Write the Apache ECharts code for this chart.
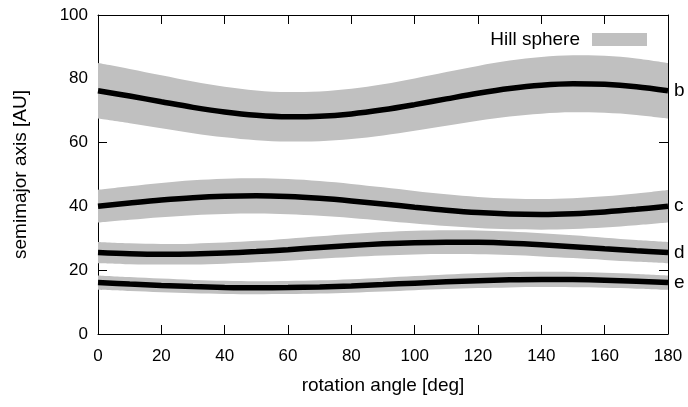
<!DOCTYPE html>
<html>
<head>
<meta charset="utf-8">
<script src="https://cdn.jsdelivr.net/npm/echarts@6/dist/echarts.min.js"></script>
<style>
  html, body { margin: 0; padding: 0; background: #fff; }
  #chart { width: 688px; height: 407px; }
</style>
</head>
<body>
<div id="chart"></div>
<script>
// Rotation angle of the system [deg]
const angle = [0, 10, 20, 30, 40, 50, 60, 70, 80, 90, 100, 110, 120, 130, 140, 150, 160, 170, 180];

// Semimajor axes of the planets [AU]
const aB = [76.23, 74.6, 72.8, 71.05, 69.57, 68.54, 68.07, 68.23, 68.99, 70.27, 71.9, 73.7, 75.45, 76.93, 77.96, 78.43, 78.27, 77.51, 76.23];
const aC = [40.05, 41.05, 41.98, 42.72, 43.17, 43.3, 43.07, 42.52, 41.72, 40.75, 39.75, 38.82, 38.08, 37.63, 37.5, 37.73, 38.28, 39.08, 40.05];
const aD = [25.53, 25.16, 25.0, 25.07, 25.36, 25.84, 26.44, 27.1, 27.73, 28.27, 28.64, 28.8, 28.73, 28.44, 27.96, 27.36, 26.7, 26.07, 25.53];
const aE = [16.11, 15.66, 15.23, 14.87, 14.61, 14.5, 14.55, 14.75, 15.07, 15.49, 15.94, 16.37, 16.73, 16.99, 17.1, 17.05, 16.85, 16.53, 16.11];

// Hill radii of the planets [AU]
const hB = [8.69, 8.50, 8.30, 8.10, 7.93, 7.81, 7.76, 7.78, 7.86, 8.01, 8.20, 8.40, 8.60, 8.77, 8.89, 8.94, 8.92, 8.84, 8.69];
const hC = [5.13, 5.25, 5.37, 5.47, 5.53, 5.54, 5.51, 5.44, 5.34, 5.22, 5.09, 4.97, 4.87, 4.82, 4.80, 4.83, 4.90, 5.00, 5.13];
const hD = [3.32, 3.27, 3.25, 3.26, 3.30, 3.36, 3.44, 3.52, 3.60, 3.68, 3.72, 3.74, 3.73, 3.70, 3.63, 3.56, 3.47, 3.39, 3.32];
const hE = [2.26, 2.19, 2.13, 2.08, 2.05, 2.03, 2.04, 2.07, 2.11, 2.17, 2.23, 2.29, 2.34, 2.38, 2.39, 2.39, 2.36, 2.31, 2.26];

const planetNames = ['b', 'c', 'd', 'e'];
const planetA = [aB, aC, aD, aE];
const planetH = [hB, hC, hD, hE];

const yTicks = { min: 0, max: 100, interval: 20 };

const FONT = 'Liberation Sans, Arial, sans-serif';
const BAND = '#c0c0c0';
const TICK_FS = 17;
const TITLE_FS = 19;
const SMOOTH = 0.35;

const series = [];
planetNames.forEach((p, k) => {
  const a = planetA[k], h = planetH[k];
  // invisible lower edge of the Hill band, used as the stack base
  series.push({
    name: p + '-hill-base', type: 'line', stack: 'hill-' + p, smooth: SMOOTH,
    symbol: 'none', silent: true, z: 1,
    lineStyle: { opacity: 0, width: 0 },
    data: a.map((v, i) => v - h[i])
  });
  // band thickness = 2 Hill radii, filled in grey
  series.push({
    name: 'Hill sphere', type: 'line', stack: 'hill-' + p, smooth: SMOOTH,
    symbol: 'none', silent: true, z: 1,
    color: BAND,
    lineStyle: { opacity: 0, width: 0 },
    areaStyle: { color: BAND, opacity: 1 },
    data: h.map(v => 2 * v)
  });
});
planetNames.forEach((p, k) => {
  series.push({
    name: p, type: 'line', smooth: SMOOTH, symbol: 'none', z: 5,
    color: '#000',
    lineStyle: { color: '#000', width: 5.5 },
    endLabel: { show: true, formatter: p, color: '#000', fontSize: TITLE_FS, fontFamily: FONT, distance: 6 },
    data: planetA[k]
  });
});

const lineCommon = {
  axisLine: { show: true, onZero: false, lineStyle: { color: '#000', width: 1 } },
  splitLine: { show: false }
};
const tickCommon = { show: true, inside: true, length: 9, lineStyle: { color: '#000', width: 1 } };

const xCommon = Object.assign({}, lineCommon, {
  type: 'category',
  data: angle.map(String),
  boundaryGap: false,
  axisTick: Object.assign({ interval: 1 }, tickCommon)
});
const yCommon = Object.assign({}, lineCommon, yTicks, {
  type: 'value',
  axisTick: tickCommon
});

const option = {
  animation: false,
  backgroundColor: '#fff',
  grid: { left: 98, right: 20, top: 15, bottom: 73 },
  legend: {
    data: ['Hill sphere'],
    right: 36, top: 25,
    align: 'right',
    icon: 'rect',
    itemWidth: 55, itemHeight: 13,
    itemStyle: { color: BAND, borderWidth: 0 },
    textStyle: { color: '#000', fontSize: TITLE_FS, fontFamily: FONT, padding: [0, 7, 0, 0] }
  },
  xAxis: [
    Object.assign({}, xCommon, {
      position: 'bottom',
      name: 'rotation angle [deg]', nameLocation: 'middle', nameGap: 42,
      nameTextStyle: { color: '#000', fontSize: TITLE_FS, fontFamily: FONT },
      axisLabel: { interval: 1, color: '#000', fontSize: TICK_FS, fontFamily: FONT, margin: 14 }
    }),
    Object.assign({}, xCommon, { position: 'top', axisLabel: { show: false } })
  ],
  yAxis: [
    Object.assign({}, yCommon, {
      position: 'left',
      name: 'semimajor axis [AU]', nameLocation: 'middle', nameGap: 68,
      nameTextStyle: { color: '#000', fontSize: TITLE_FS, fontFamily: FONT },
      axisLabel: { color: '#000', fontSize: TICK_FS, fontFamily: FONT, margin: 10 }
    }),
    Object.assign({}, yCommon, { position: 'right', axisLabel: { show: false } })
  ],
  series: series
};

const chart = echarts.init(document.getElementById('chart'), null, { renderer: 'canvas' });
chart.setOption(option);
</script>
</body>
</html>
